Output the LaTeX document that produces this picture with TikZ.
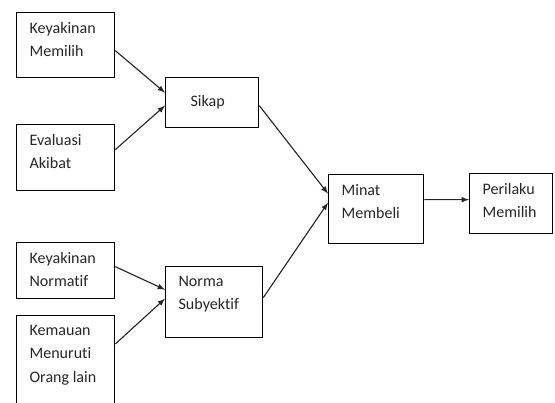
\documentclass[tikz,border=0pt]{standalone}
\usepackage{fontspec}
\setmainfont{Carlito}[Ligatures={NoCommon}]
\usetikzlibrary{calc}
\newcommand{\isi}[4][t]{\parbox[t][#3][#1]{#2}{\raggedright #4}}
\tikzset{
	kotak/.style={draw, line width=0.9pt, anchor=north west, inner xsep=0.325cm, inner ysep=0.25cm,
		font=\fontsize{11.4}{16.4}\selectfont, text=black!85},
	panah/.style={->, >=latex, line width=0.8pt, color=black!85}
}

\begin{document}
\begin{tikzpicture}[x=0.025cm, y=-0.025cm]
			%%%%% START %%%%%
			\useasboundingbox (0, 0) rectangle (555, 403);
			\clip (0, 0) rectangle (555, 403);
			
			\node[kotak] (km) at (16, 12) {\isi{1.8cm}{1.125cm}{Keyakinan\\Memilih}};
			\node[kotak] (ea) at (16, 124) {\isi{1.8cm}{1.15cm}{Evaluasi\\Akibat}};
			\node[kotak] (sikap) at (165, 77) {\isi[c]{1.675cm}{0.75cm}{\hspace*{0.3cm}Sikap}};
			
			\node[kotak] (kn) at (16, 242) {\isi{1.8cm}{0.9cm}{Keyakinan\\Normatif}};
			\node[kotak] (kem) at (16, 315) {\isi{1.8cm}{2.375cm}{Kemauan\\Menuruti\\Orang lain}};
			\node[kotak] (ns) at (165, 266) {\isi{1.775cm}{1.275cm}{Norma\\Subyektif}};
			
			\node[kotak] (mm) at (328, 174) {\isi{1.725cm}{1.225cm}{Minat\\Membeli}};
			\node[kotak] (pm) at (469, 173) {\isi{1.425cm}{1.0cm}{Perilaku\\Memilih}};
			
			\draw[panah] ([shift={(0, 5.5)}]km.east) -- ([shift={(0, -10)}]sikap.west);
			\draw[panah] ([shift={(0, -8)}]ea.east) -- ([shift={(0, 3)}]sikap.west);
			
			\draw[panah] ([shift={(0, -4)}]kn.east) -- ([shift={(0, -12.5)}]ns.west);
			\draw[panah] ([shift={(0, 29)}]kem.north east) -- ([shift={(0, -3.5)}]ns.west);
			
			\draw[panah] ([shift={(0, 3)}]sikap.east) -- ([shift={(0, -15.5)}]mm.west);
			\draw[panah] ([shift={(0, -4.5)}]ns.east) -- ([shift={(0, -6.5)}]mm.west);
			\draw[panah] ([shift={(0, -9.5)}]mm.east) -- ([shift={(0, -4)}]pm.west);
			
			%%%%% END %%%%%
		\end{tikzpicture}
\end{document}
